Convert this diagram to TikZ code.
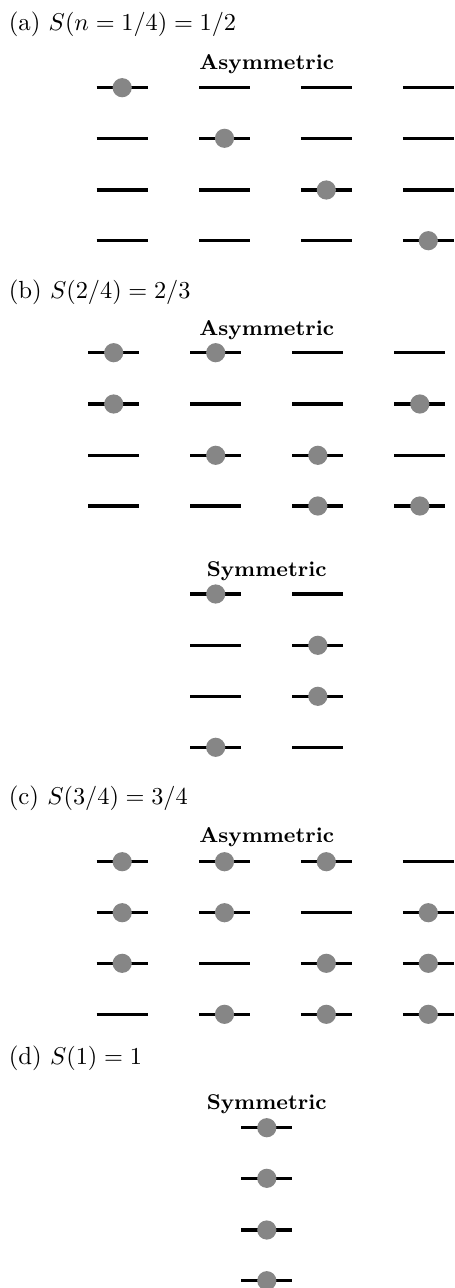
\documentclass[tikz,border=0pt]{standalone}
\usepackage{fontspec}
\definecolor{dotgray}{RGB}{134,134,134}
\begin{document}
\begin{tikzpicture}[x=0.4115pt,y=-0.4115pt,
  level/.style={line width=1.4pt,black},
  electron/.style={circle,fill=dotgray,inner sep=0pt,minimum size=7.9pt},
  paneltitle/.style={anchor=base,font=\fontsize{8.8pt}{10pt}\selectfont\bfseries,inner sep=0pt},
  panellabel/.style={anchor=base west,font=\fontsize{10.2pt}{12pt}\selectfont,inner sep=0pt}]
\useasboundingbox (0,0) rectangle (455,1288);

% ---------- (a) ----------
\node[panellabel] (labelA) at (8.3,31) {(a) $S(n=1/4)=1/2$};
\node[paneltitle] (titleA) at (266.7,69.3) {Asymmetric};
\foreach \x in {122.2,224.5,326.3,428.3}
  \foreach \y in {87.7,138.3,190,240.7}
    \draw[level] (\x-25.5,\y) -- (\x+25.5,\y);
\foreach \n/\x/\y in {a1/122.2/87.7,a2/224.5/138.3,a3/326.3/190,a4/428.3/240.7}
  \node[electron] (\n) at (\x,\y) {};

% ---------- (b) ----------
\node[panellabel] (labelB) at (8.3,298) {(b) $S(2/4)=2/3$};
\node[paneltitle] (titleB) at (266.7,335) {Asymmetric};
\foreach \x in {113.7,215.7,317.8,419.8}
  \foreach \y in {352.7,404,455.3,506}
    \draw[level] (\x-25.5,\y) -- (\x+25.5,\y);
\foreach \n/\x/\y in {b11/113.7/352.7,b12/113.7/404,
                      b21/215.7/352.7,b23/215.7/455.3,
                      b33/317.8/455.3,b34/317.8/506,
                      b42/419.8/404,b44/419.8/506}
  \node[electron] (\n) at (\x,\y) {};

\node[paneltitle] (titleBs) at (266.7,576) {Symmetric};
\foreach \x in {215.7,317.8}
  \foreach \y in {594,645.3,696.3,747.3}
    \draw[level] (\x-25.5,\y) -- (\x+25.5,\y);
\foreach \n/\x/\y in {bs11/215.7/594,bs14/215.7/747.3,
                      bs22/317.8/645.3,bs23/317.8/696.3}
  \node[electron] (\n) at (\x,\y) {};

% ---------- (c) ----------
\node[panellabel] (labelC) at (8.3,804) {(c) $S(3/4)=3/4$};
\node[paneltitle] (titleC) at (266.7,842.7) {Asymmetric};
\foreach \x in {122.2,224.5,326.3,428.3}
  \foreach \y in {861.7,912.7,963.3,1014.3}
    \draw[level] (\x-25.5,\y) -- (\x+25.5,\y);
\foreach \n/\x/\y in {c11/122.2/861.7,c12/122.2/912.7,c13/122.2/963.3,
                      c21/224.5/861.7,c22/224.5/912.7,c24/224.5/1014.3,
                      c31/326.3/861.7,c33/326.3/963.3,c34/326.3/1014.3,
                      c42/428.3/912.7,c43/428.3/963.3,c44/428.3/1014.3}
  \node[electron] (\n) at (\x,\y) {};

% ---------- (d) ----------
\node[panellabel] (labelD) at (8.3,1064) {(d) $S(1)=1$};
\node[paneltitle] (titleD) at (266.7,1109.3) {Symmetric};
\foreach \y in {1127.7,1178.3,1230,1280.7}
  \draw[level] (266.8-25.5,\y) -- (266.8+25.5,\y);
\foreach \n/\y in {d1/1127.7,d2/1178.3,d3/1230,d4/1280.7}
  \node[electron] (\n) at (266.8,\y) {};
\end{tikzpicture}
\end{document}
